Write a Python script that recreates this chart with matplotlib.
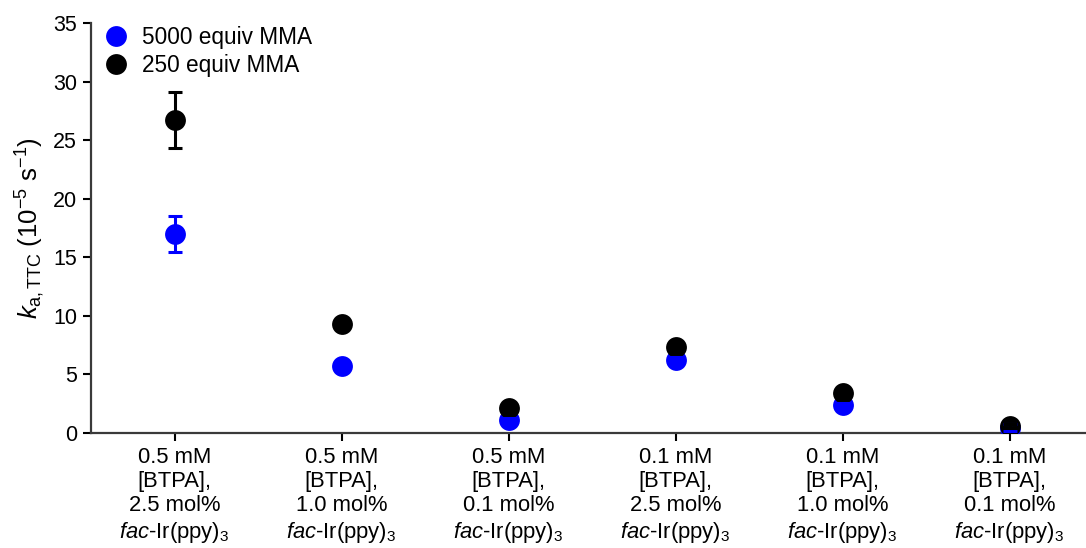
import matplotlib
matplotlib.use("Agg")
import matplotlib.pyplot as plt
import numpy as np

plt.rcParams['font.family'] = ['Liberation Sans', 'DejaVu Sans']
plt.rcParams['mathtext.fontset'] = 'custom'
plt.rcParams['mathtext.rm'] = 'Liberation Sans'
plt.rcParams['mathtext.it'] = 'Liberation Sans:italic'
plt.rcParams['mathtext.bf'] = 'Liberation Sans:bold'

# Conditions (x categories)
categories = [
    "0.5 mM\n[BTPA],\n2.5 mol%\n$\\mathit{fac}$-Ir(ppy)$_3$",
    "0.5 mM\n[BTPA],\n1.0 mol%\n$\\mathit{fac}$-Ir(ppy)$_3$",
    "0.5 mM\n[BTPA],\n0.1 mol%\n$\\mathit{fac}$-Ir(ppy)$_3$",
    "0.1 mM\n[BTPA],\n2.5 mol%\n$\\mathit{fac}$-Ir(ppy)$_3$",
    "0.1 mM\n[BTPA],\n1.0 mol%\n$\\mathit{fac}$-Ir(ppy)$_3$",
    "0.1 mM\n[BTPA],\n0.1 mol%\n$\\mathit{fac}$-Ir(ppy)$_3$",
]

# Apparent activation rate constants (10^-5 s^-1)
k_5000 = [17.0, 5.75, 1.1, 6.25, 2.4, 0.45]
err_5000 = [1.55, 0.2, 0.15, 0.2, 0.2, 0.3]
k_250 = [26.7, 9.3, 2.15, 7.35, 3.4, 0.6]
err_250 = [2.4, 0.2, 0.15, 0.2, 0.35, 0.15]

y_ticks = [0, 5, 10, 15, 20, 25, 30, 35]

fig = plt.figure(figsize=(10.86, 5.48), dpi=100)
ax = fig.add_axes([0.0838, 0.2099, 0.915, 0.748])

x = np.arange(len(categories))

ax.errorbar(x, k_5000, yerr=err_5000, fmt='none', ecolor='#0000ff',
            elinewidth=2.2, capsize=4.7, capthick=2.2, zorder=5)
ax.errorbar(x, k_250, yerr=err_250, fmt='none', ecolor='black',
            elinewidth=2.2, capsize=4.7, capthick=2.2, zorder=5)
ax.plot(x, k_5000, 'o', color='#0000ff', markersize=15, markeredgewidth=0,
        label='5000 equiv MMA', zorder=3)
ax.plot(x, k_250, 'o', color='black', markersize=15, markeredgewidth=0,
        label='250 equiv MMA', zorder=4)

ax.set_xlim(-0.5, 5.45)
ax.set_ylim(0, 35)
ax.set_yticks(y_ticks)
ax.set_xticks(x)
ax.set_xticklabels(categories, fontsize=15.8, linespacing=1.2)
ax.tick_params(axis='y', labelsize=15.5, length=6, width=1.5, pad=4, direction='out')
ax.tick_params(axis='x', length=6, width=1.5, pad=4, direction='out')

for s in ['top', 'right']:
    ax.spines[s].set_visible(False)
for s in ['left', 'bottom']:
    ax.spines[s].set_linewidth(1.6)
    ax.spines[s].set_color('#3a3a3a')

ax.set_ylabel(r'$\mathit{k}_{\mathrm{a,TTC}}\;(10^{-5}\ \mathrm{s}^{-1})$', fontsize=18.5, labelpad=4)

ax.legend(loc='upper left', bbox_to_anchor=(-0.004, 1.032), frameon=False, fontsize=16.3,
          handletextpad=0.55, labelspacing=0.24, borderaxespad=0.3, handlelength=1.2)

fig.savefig('out.png', dpi=100)
